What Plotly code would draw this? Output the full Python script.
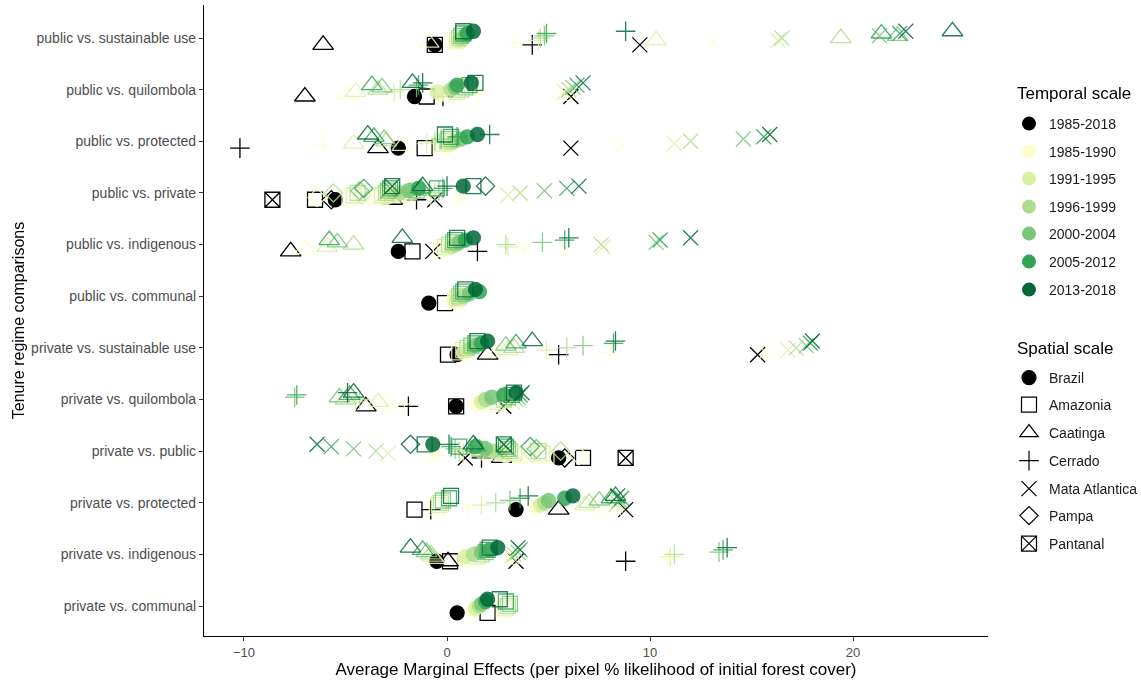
import plotly.graph_objects as go

# ---------------- data ----------------
CATEGORIES = [  # bottom to top
    "private vs. communal", "private vs. indigenous", "private vs. protected",
    "private vs. public", "private vs. quilombola", "private vs. sustainable use",
    "public vs. communal", "public vs. indigenous", "public vs. private",
    "public vs. protected", "public vs. quilombola", "public vs. sustainable use",
]
TEMPORAL = ["1985-2018", "1985-1990", "1991-1995", "1996-1999", "2000-2004", "2005-2012", "2013-2018"]
SPATIAL = ["Brazil", "Amazonia", "Caatinga", "Cerrado", "Mata Atlantica", "Pampa", "Pantanal"]

# values per comparison, in TEMPORAL order
BRAZIL = {
    "public vs. sustainable use": [-0.6, 0.5, 0.6, 0.7, 0.9, 1.0, 1.3],
    "public vs. quilombola": [-1.6, -0.3, -0.5, 0.2, 0.4, 0.5, 1.2],
    "public vs. protected": [-2.4, 0.0, 0.2, 0.4, 0.7, 1.0, 1.5],
    "public vs. private": [-5.5, -3.0, -2.6, -2.3, -1.9, -1.4, 0.8],
    "public vs. indigenous": [-2.4, 0.0, 0.2, 0.4, 0.6, 0.9, 1.3],
    "public vs. communal": [-0.9, 0.3, 0.5, 0.8, 1.1, 1.6, 1.4],
    "private vs. sustainable use": [0.5, 0.8, 1.0, 1.2, 1.4, 1.7, 2.0],
    "private vs. quilombola": [0.45, 1.5, 1.7, 1.9, 2.2, 2.8, 3.4],
    "private vs. public": [5.5, 2.9, 2.6, 2.3, 1.9, 1.4, -0.7],
    "private vs. protected": [3.4, 4.4, 4.6, 4.8, 5.0, 5.8, 6.2],
    "private vs. indigenous": [-0.5, 0.8, 0.9, 1.3, 1.7, 2.1, 2.5],
    "private vs. communal": [0.5, 1.3, 1.4, 1.6, 1.7, 1.9, 2.0],
}
AMAZONIA = {
    "public vs. sustainable use": [-0.6, 0.4, 0.5, 0.6, 0.7, 0.8, 0.8],
    "public vs. quilombola": [-1.0, 0.3, 0.5, 0.7, 0.9, 1.1, 1.4],
    "public vs. protected": [-1.1, -0.3, -0.2, 0.0, 0.1, 0.2, -0.1],
    "public vs. private": [-6.5, -4.8, -4.6, -4.4, -1.5, -0.5, 1.3],
    "public vs. indigenous": [-1.7, -0.3, -0.1, 0.1, 0.3, 0.4, 0.5],
    "public vs. communal": [-0.1, 0.4, 0.5, 0.6, 0.7, 0.8, 0.9],
    "private vs. sustainable use": [0.05, 0.6, 0.8, 1.0, 1.2, 1.4, 1.5],
    "private vs. quilombola": [0.45, 2.2, 2.5, 2.8, 3.0, 3.2, 3.3],
    "private vs. public": [6.7, 4.9, 4.7, 4.5, 1.6, 0.6, -1.1],
    "private vs. protected": [-1.6, -0.5, -0.4, -0.3, -0.2, 0.1, 0.2],
    "private vs. indigenous": [0.15, 1.3, 1.5, 1.7, 1.9, 2.0, 2.1],
    "private vs. communal": [2.0, 2.8, 2.9, 3.0, 3.1, 2.9, 2.6],
}
CAATINGA = {
    "public vs. sustainable use": [-6.1, -0.9, 10.3, 19.4, 22.2, 21.4, 24.9],
    "public vs. quilombola": [-7.0, -4.9, -4.5, -3.4, -3.2, -3.7, -1.7],
    "public vs. protected": [-3.4, -2.2, -4.6, -3.0, -3.1, -3.6, -3.9],
    "public vs. private": [-2.7, -2.2, -2.0, -1.8, -1.5, -1.3, -1.2],
    "public vs. indigenous": [-7.7, -7.0, -5.9, -4.6, -5.4, -5.8, -2.2],
    "private vs. sustainable use": [2.0, 2.5, 3.0, 3.3, 2.9, 3.4, 4.2],
    "private vs. quilombola": [-4.0, -3.0, -3.4, -5.0, -5.3, -4.8, -4.6],
    "private vs. public": [2.7, 2.2, 2.0, 1.8, 1.6, 1.4, 1.3],
    "private vs. protected": [5.5, 7.3, 6.8, 7.0, 7.5, 8.1, 8.3],
    "private vs. indigenous": [0.05, -0.6, -0.7, -0.8, -1.0, -1.2, -1.8],
}
CERRADO = {
    "public vs. sustainable use": [4.2, 3.3, 4.5, 4.6, 4.8, 4.9, 8.8],
    "public vs. quilombola": [-0.2, 1.6, -2.6, -2.3, -1.5, -1.4, -1.2],
    "public vs. protected": [-10.2, -6.1, -1.0, -0.6, -0.3, 0.5, 2.1],
    "public vs. private": [-1.5, 0.6, -0.8, -0.6, -0.4, -0.2, 0.0],
    "public vs. indigenous": [1.5, 3.8, 3.0, 2.9, 4.7, 5.8, 6.0],
    "private vs. sustainable use": [5.5, 8.0, 4.9, 5.9, 6.7, 8.2, 8.3],
    "private vs. quilombola": [-1.9, -2.1, -4.5, -4.3, -7.5, -7.4, -4.9],
    "private vs. public": [1.7, -0.6, 0.8, 0.6, 0.4, 0.2, 0.1],
    "private vs. protected": [-0.8, 1.0, 1.7, 2.4, 3.1, 3.6, 4.0],
    "private vs. indigenous": [8.8, 10.9, 11.0, 11.2, 13.4, 13.6, 13.8],
}
MATA_ATLANTICA = {
    "public vs. sustainable use": [9.5, 13.1, 16.3, 16.5, 21.3, 22.3, 22.6],
    "public vs. quilombola": [6.1, 5.6, 5.8, 6.0, 6.2, 6.4, 6.7],
    "public vs. protected": [6.1, 8.6, 11.2, 12.0, 14.6, 15.6, 15.9],
    "public vs. private": [-0.6, 0.7, 3.0, 3.6, 4.8, 5.9, 6.5],
    "public vs. indigenous": [-0.7, 5.9, 7.7, 7.6, 10.3, 10.5, 12.0],
    "private vs. sustainable use": [15.3, 15.7, 16.8, 17.2, 17.7, 17.9, 18.0],
    "private vs. quilombola": [2.8, 3.0, 3.2, 3.4, 3.5, 3.6, 3.7],
    "private vs. public": [0.9, -0.6, -2.9, -3.5, -4.6, -5.7, -6.4],
    "private vs. protected": [8.8, 8.2, 8.3, 8.4, 8.5, 8.6, 8.4],
    "private vs. indigenous": [3.4, 3.0, 3.2, 3.3, 3.5, 3.6, 3.5],
}
PAMPA = {
    "public vs. private": [-5.7, -6.4, -4.2, -5.6, -4.3, -4.1, 1.9],
    "private vs. public": [5.8, 6.5, 4.2, 5.6, 4.4, 4.1, -1.8],
}
PANTANAL = {
    "public vs. private": [-8.6, -3.5, -3.2, -3.0, -2.9, -2.8, -2.7],
    "private vs. public": [8.8, 3.6, 3.3, 3.1, 3.0, 2.9, 2.8],
}

# ---------------- styles ----------------
DATA = [BRAZIL, AMAZONIA, CAATINGA, CERRADO, MATA_ATLANTICA, PAMPA, PANTANAL]
COLORS = ["#000000", "#ffffcc", "#d9f0a3", "#addd8e", "#78c679", "#31a354", "#006837"]
SYMBOLS = ["circle", "square-open", "triangle-up-open", "cross-thin-open",
           "x-thin-open", "diamond-open", "square-x-open"]
SIZES = [14, 15, 18, 14, 15, 14, 15]
DODGE = 0.044
FONT = "Liberation Sans"

fig = go.Figure()
for t, tname in enumerate(TEMPORAL):
    for s, sname in enumerate(SPATIAL):
        xs, ys = [], []
        for cat, vals in DATA[s].items():
            v = vals[t]
            if v is None:
                continue
            xs.append(v)
            ys.append(CATEGORIES.index(cat) + 1 + (t - 3) * DODGE)
        if not xs:
            continue
        fig.add_trace(go.Scatter(
            x=xs, y=ys, mode="markers", showlegend=False,
            opacity=1.0 if t == 0 else 0.85,
            marker=dict(symbol=SYMBOLS[s], size=SIZES[s], color=COLORS[t],
                        line=dict(width=1.3, color=COLORS[t])),
            hovertemplate=f"{sname} {tname}<br>%{{x}}<extra></extra>",
        ))

# ---------------- legends ----------------
PLOT_TOP, PLOT_BOTTOM, PLOT_LEFT, PLOT_RIGHT = 5, 636, 204, 988
W, H = 1141, 682
def cy(py):
    return 1 - py / H
def cx(px):
    return px / W

TEMP_ITEM_Y = [124, 152, 179, 207, 234, 262, 290]
SPAT_ITEM_Y = [378, 405, 433, 461, 489, 516, 544]
LEG_FONT = dict(family=FONT, size=14, color="#1a1a1a")

legend_layout = {}
k = 1
for t, tname in enumerate(TEMPORAL):
    key = "legend" if k == 1 else f"legend{k}"
    fig.add_trace(go.Scatter(
        x=[None], y=[None], mode="markers", name=tname, legend=key,
        marker=dict(symbol="circle", size=14, color=COLORS[t])))
    legend_layout[key] = dict(x=cx(1009), y=cy(TEMP_ITEM_Y[t]), xref="container",
                              yref="container", xanchor="left", yanchor="middle",
                              bgcolor="rgba(0,0,0,0)", itemsizing="trace",
                              font=LEG_FONT)
    k += 1
for s, sname in enumerate(SPATIAL):
    key = f"legend{k}"
    fig.add_trace(go.Scatter(
        x=[None], y=[None], mode="markers", name=sname, legend=key,
        marker=dict(symbol=SYMBOLS[s], size=SIZES[s], color="#000000",
                    line=dict(width=1.2, color="#000000"))))
    legend_layout[key] = dict(x=cx(1009), y=cy(SPAT_ITEM_Y[s]), xref="container",
                              yref="container", xanchor="left", yanchor="middle",
                              bgcolor="rgba(0,0,0,0)", itemsizing="trace",
                              font=LEG_FONT)
    k += 1

fig.update_layout(
    width=W, height=H,
    margin=dict(l=PLOT_LEFT, r=W - PLOT_RIGHT, t=PLOT_TOP, b=H - PLOT_BOTTOM,
                autoexpand=False),
    plot_bgcolor="white", paper_bgcolor="white",
    font=dict(family=FONT, color="#000000"),
    xaxis=dict(range=[-11.97, 26.65], tickvals=[-10, 0, 10, 20],
               showgrid=False, zeroline=False, showline=True, linecolor="#000000",
               linewidth=1.2, ticks="outside", ticklen=4, tickcolor="#333333",
               tickfont=dict(size=13, color="#4d4d4d"),
               title=dict(text="Average Marginal Effects (per pixel % likelihood of initial forest cover)",
                          font=dict(size=17), standoff=2)),
    yaxis=dict(range=[0.42, 12.64], tickvals=list(range(1, len(CATEGORIES) + 1)),
               ticktext=CATEGORIES, showgrid=False, zeroline=False, showline=True,
               linecolor="#000000", linewidth=1.2, ticks="outside", ticklen=4,
               tickcolor="#333333", tickfont=dict(size=14, color="#4d4d4d"),
               title=dict(text="Tenure regime comparisons", font=dict(size=16), standoff=2)),
    annotations=[
        dict(text="Temporal scale", x=cx(1015), y=cy(94), xref="paper",
             yref="paper", xanchor="left", yanchor="middle", showarrow=False,
             font=dict(size=17, family=FONT)),
        dict(text="Spatial scale", x=cx(1015), y=cy(348), xref="paper",
             yref="paper", xanchor="left", yanchor="middle", showarrow=False,
             font=dict(size=17, family=FONT)),
    ],
    **legend_layout,
)
# annotations positioned in paper coords of the plot area
fig.layout.annotations[0].x = (1015 - PLOT_LEFT) / (PLOT_RIGHT - PLOT_LEFT)
fig.layout.annotations[0].y = (PLOT_BOTTOM - 94) / (PLOT_BOTTOM - PLOT_TOP)
fig.layout.annotations[1].x = (1015 - PLOT_LEFT) / (PLOT_RIGHT - PLOT_LEFT)
fig.layout.annotations[1].y = (PLOT_BOTTOM - 348) / (PLOT_BOTTOM - PLOT_TOP)

fig.write_html("out.html", config={"displayModeBar": False},
               post_script="document.body.style.margin='0';")
